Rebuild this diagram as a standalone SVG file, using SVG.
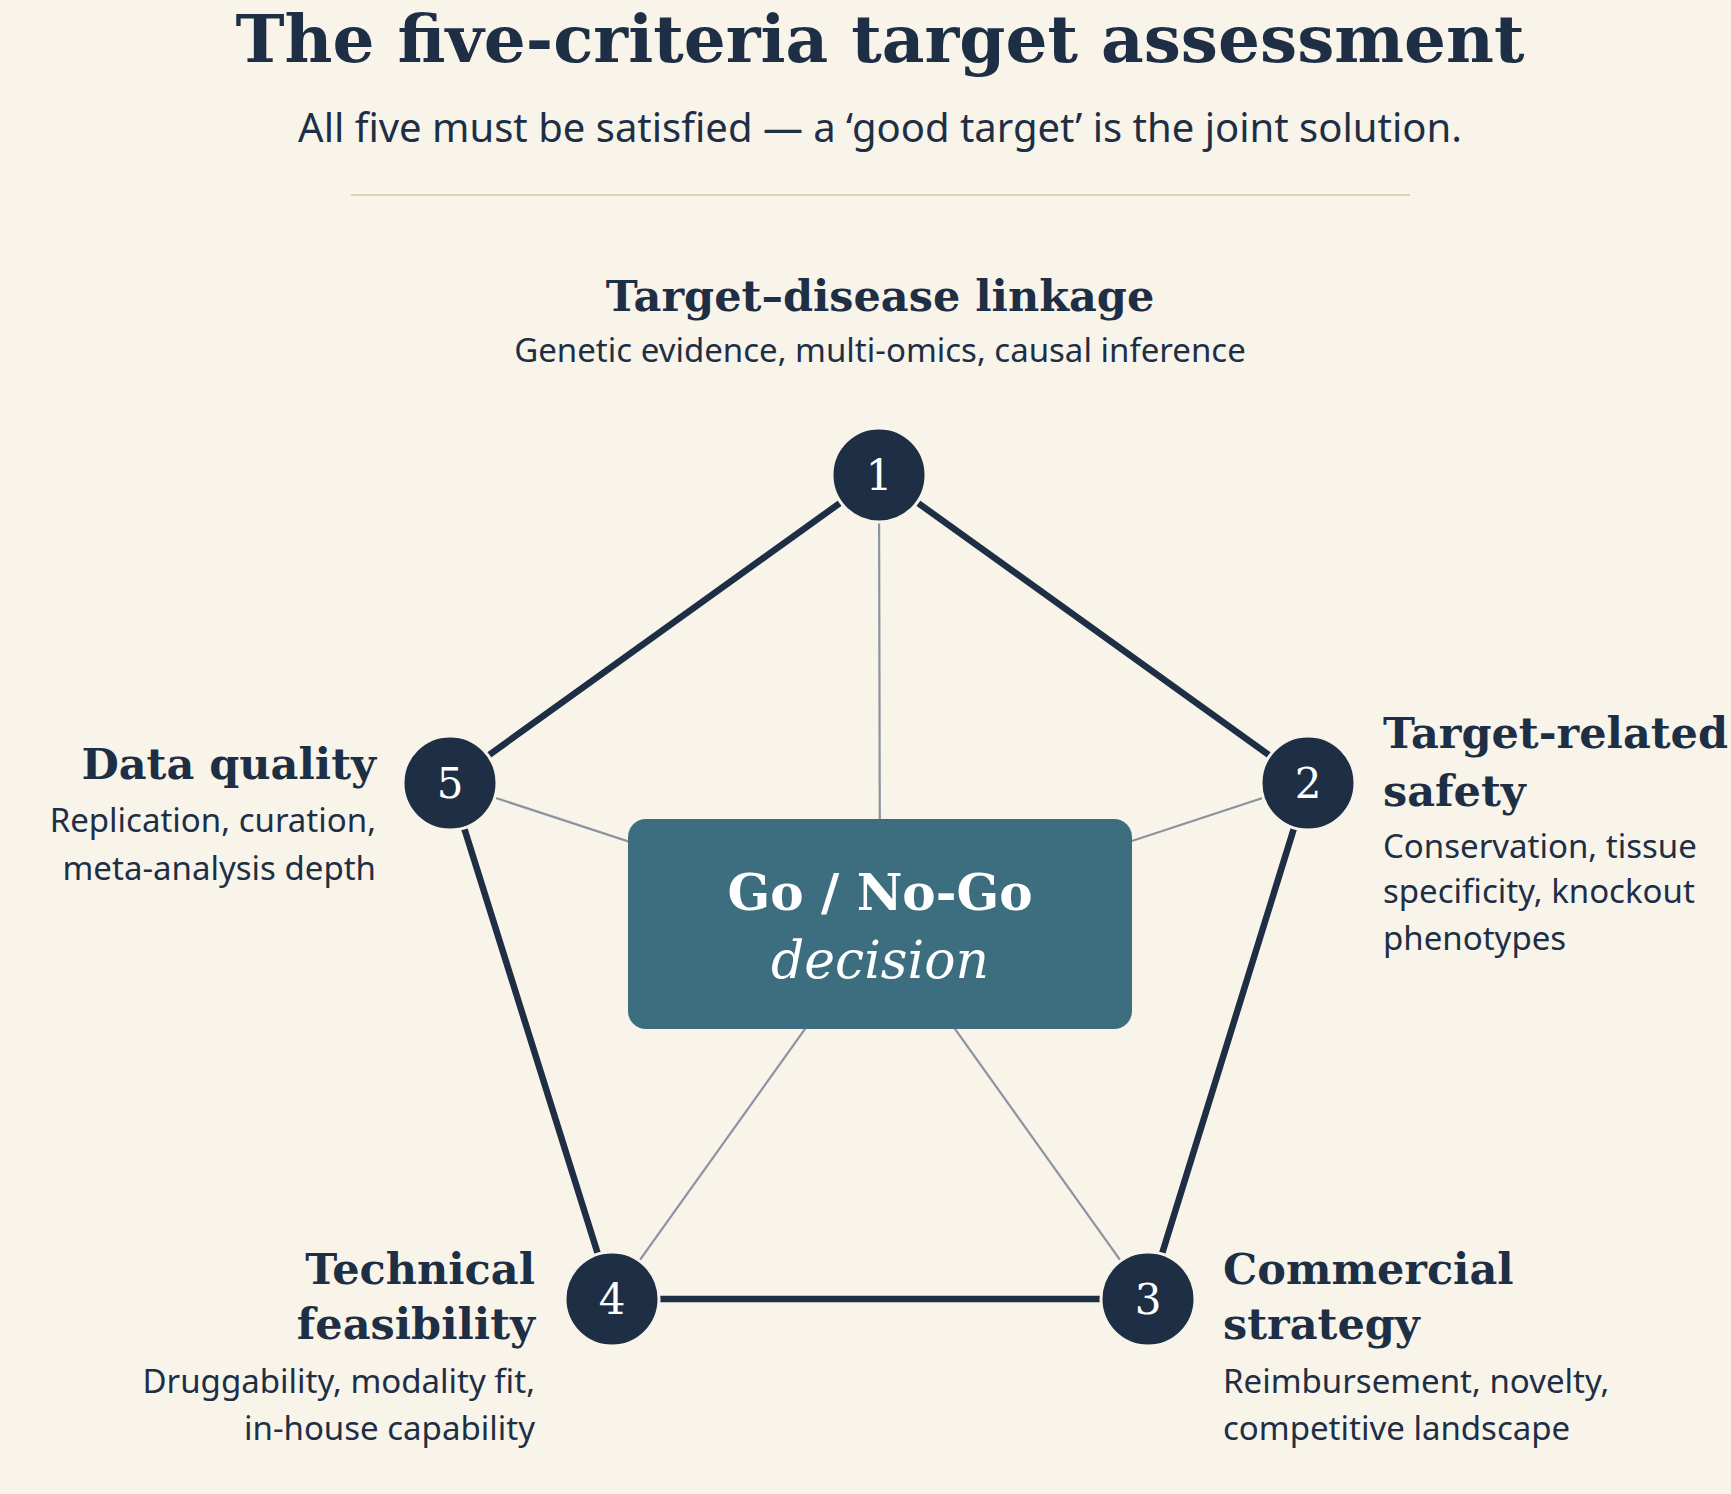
<svg xmlns="http://www.w3.org/2000/svg" width="1731" height="1494" viewBox="0 0 1731 1494">
<style>
.t{font-family:"DejaVu Serif","Liberation Serif",serif;font-weight:bold;fill:#1e2f45}
.s{font-family:"Noto Sans","Liberation Sans",sans-serif;fill:#1e2f45}
.h{font-size:43px}
.d{font-size:33px}
.edge{stroke:#1e2f45;stroke-width:6.5;fill:none}
.spoke{stroke:#8a93a0;stroke-width:2.2}
.node circle{fill:#1e2f45;stroke:#f8f4ea;stroke-width:3}
.num{font-family:"DejaVu Serif","Liberation Serif",serif;font-size:42px;fill:#fff;text-anchor:middle}
</style>
<rect width="1731" height="1494" fill="#f8f4ea"/>
<text x="880" y="62" class="t" font-size="66" text-anchor="middle">The five-criteria target assessment</text>
<text x="880" y="142" class="s" font-size="40" text-anchor="middle">All five must be satisfied — a ‘good target’ is the joint solution.</text>
<line x1="351" y1="195" x2="1410" y2="195" stroke="#ddd3bd" stroke-width="2"/>
<g id="connectors">
<line class="spoke" x1="879" y1="475" x2="880" y2="924"/>
<line class="spoke" x1="1308" y1="783" x2="880" y2="924"/>
<line class="spoke" x1="1148" y1="1299" x2="880" y2="924"/>
<line class="spoke" x1="612" y1="1299" x2="880" y2="924"/>
<line class="spoke" x1="450" y1="783" x2="880" y2="924"/>
<polygon class="edge" points="879,475 1308,783 1148,1299 612,1299 450,783"/>
</g>
<g id="center">
<rect x="628" y="819" width="504" height="210" rx="18" fill="#3d6e80"/>
<text x="880" y="910" font-family="DejaVu Serif,Liberation Serif,serif" font-weight="bold" font-size="50" fill="#fff" text-anchor="middle">Go / No-Go</text>
<text x="880" y="978" font-family="DejaVu Serif,Liberation Serif,serif" font-style="italic" font-size="52" fill="#fff" text-anchor="middle">decision</text>
</g>
<g id="n1" class="node"><circle cx="879" cy="475" r="47"/><text class="num" x="879" y="490">1</text>
<text class="t h" x="880" y="311" text-anchor="middle">Target–disease linkage</text>
<text class="s d" x="880" y="362" text-anchor="middle">Genetic evidence, multi-omics, causal inference</text></g>
<g id="n2" class="node"><circle cx="1308" cy="783" r="47"/><text class="num" x="1308" y="798">2</text>
<text class="t h" x="1383" y="748">Target-related</text><text class="t h" x="1383" y="806">safety</text>
<text class="s d" x="1383" y="858">Conservation, tissue</text><text class="s d" x="1383" y="903">specificity, knockout</text><text class="s d" x="1383" y="950">phenotypes</text></g>
<g id="n3" class="node"><circle cx="1148" cy="1299" r="47"/><text class="num" x="1148" y="1314">3</text>
<text class="t h" x="1223" y="1284">Commercial</text><text class="t h" x="1223" y="1339">strategy</text>
<text class="s d" x="1223" y="1393">Reimbursement, novelty,</text><text class="s d" x="1223" y="1440">competitive landscape</text></g>
<g id="n4" class="node"><circle cx="612" cy="1299" r="47"/><text class="num" x="612" y="1314">4</text>
<text class="t h" x="535" y="1284" text-anchor="end">Technical</text><text class="t h" x="535" y="1339" text-anchor="end">feasibility</text>
<text class="s d" x="535" y="1393" text-anchor="end">Druggability, modality fit,</text><text class="s d" x="535" y="1440" text-anchor="end">in-house capability</text></g>
<g id="n5" class="node"><circle cx="450" cy="783" r="47"/><text class="num" x="450" y="798">5</text>
<text class="t h" x="376" y="779" text-anchor="end">Data quality</text>
<text class="s d" x="376" y="832" text-anchor="end">Replication, curation,</text><text class="s d" x="376" y="880" text-anchor="end">meta-analysis depth</text></g>
</svg>
